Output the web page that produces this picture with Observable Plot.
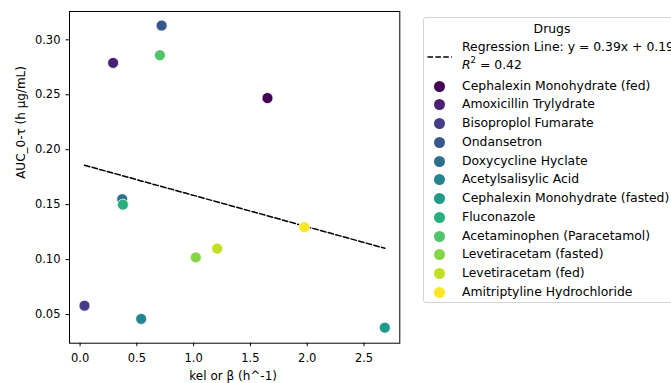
<!DOCTYPE html>
<html>
<head>
<meta charset="utf-8">
<script src="https://cdn.jsdelivr.net/npm/d3@7"></script>
<script src="https://cdn.jsdelivr.net/npm/@observablehq/plot@0.6"></script>
<style>
  html, body { margin: 0; padding: 0; background: #fff; }
  body { width: 671px; height: 383px; overflow: hidden; position: relative; font-family: "DejaVu Sans", sans-serif; color: #000; }
  #chart { position: absolute; left: 0; top: 0; }
  #legend { position: absolute; left: 423px; top: 17px; width: 280px; height: 286px; border: 1px solid #d3d3d3; border-radius: 3px; background: #fff; font-size: 12.4px; white-space: nowrap; box-sizing: border-box; }
  #legend .row { position: absolute; left: 0; height: 18px; line-height: 18px; }
  #legend .title { position: absolute; left: 0; width: 256px; text-align: center; height: 18px; line-height: 18px; }
  #legend .sw { position: absolute; left: 10px; top: 4px; width: 11px; height: 11px; border-radius: 50%; }
  #legend .lbl { position: absolute; left: 38px; top: 0; }
  #legend sup { font-size: 8.5px; line-height: 0; position: relative; top: -1px; }
</style>
</head>
<body>
<div id="chart"></div>
<div id="legend"></div>
<script>
// Drugs, elimination rate constants and exposure
const drugs = [
  "Cephalexin Monohydrate (fed)",
  "Amoxicillin Trylydrate",
  "Bisoproplol Fumarate",
  "Ondansetron",
  "Doxycycline Hyclate",
  "Acetylsalisylic Acid",
  "Cephalexin Monohydrate (fasted)",
  "Fluconazole",
  "Acetaminophen (Paracetamol)",
  "Levetiracetam (fasted)",
  "Levetiracetam (fed)",
  "Amitriptyline Hydrochloride"
];
const kel = [1.650, 0.291, 0.039, 0.718, 0.371, 0.538, 2.683, 0.377, 0.703, 1.019, 1.207, 1.974];
const auc = [0.247, 0.279, 0.058, 0.313, 0.155, 0.046, 0.038, 0.150, 0.286, 0.102, 0.110, 0.1295];

const xTicks = [0, 0.5, 1, 1.5, 2, 2.5];
const yTicks = [0.05, 0.10, 0.15, 0.20, 0.25, 0.30];

const xLabel = "kel or β (h^-1)";
const yLabel = "AUC_0-τ (h μg/mL)";
const legendTitle = "Drugs";
const regressionText = "Regression Line: y = 0.39x + 0.19";
const r2Value = "0.42";

const data = drugs.map((d, i) => ({drug: d, kel: kel[i], auc: auc[i]}));

const W = 420, H = 383;
const plot = Plot.plot({
  width: W,
  height: H,
  marginLeft: 69,
  marginRight: W - 399.3,
  marginTop: 11,
  marginBottom: H - 342.7,
  x: {domain: [-0.093, 2.815]},
  y: {domain: [0.0239, 0.3258]},
  color: {type: "ordinal", scheme: "viridis", domain: drugs},
  style: {fontFamily: "DejaVu Sans", fontSize: "11.5px", color: "#000", background: "#fff"},
  marks: [
    Plot.axisX({ticks: xTicks, tickFormat: d3.format(".1f"), tickSize: 3.5, tickPadding: 7, label: null}),
    Plot.axisY({ticks: yTicks, tickFormat: d3.format(".2f"), tickSize: 3.5, tickPadding: 5.5, label: null}),
    Plot.linearRegressionY(data, {x: "kel", y: "auc", ci: 0, stroke: "#000", strokeWidth: 1.5, strokeDasharray: "5.5,2.4"}),
    Plot.dot(data, {x: "kel", y: "auc", fill: "drug", r: 5.5, stroke: "#fff", strokeWidth: 0.75}),
    Plot.frame({stroke: "#000", strokeWidth: 1}),
    Plot.text([xLabel], {frameAnchor: "bottom", dy: 32.5, dx: -1.5, lineAnchor: "middle", fontSize: 12}),
    Plot.text([yLabel], {frameAnchor: "left", dx: -48.5, dy: 1.5, rotate: -90, lineAnchor: "middle", fontSize: 12})
  ]
});
document.getElementById("chart").appendChild(plot);

// Legend built from the plot's own color scale
const color = plot.scale("color");
const legend = document.getElementById("legend");
const boxTop = 17;
const add = (html) => { legend.insertAdjacentHTML("beforeend", html); };
add(`<div class="title" style="top:${28 - boxTop - 9}px">${legendTitle}</div>`);
add(`<div class="row" style="top:${46 - boxTop - 9}px"><span class="lbl">${regressionText}</span></div>`);
add(`<div class="row" style="top:${64.3 - boxTop - 9}px"><span class="lbl"><i>R</i><sup>2</sup> = ${r2Value}</span></div>`);
add(`<svg style="position:absolute;left:3px;top:${56 - boxTop - 2}px" width="26" height="4"><line x1="0.5" x2="25" y1="2" y2="2" stroke="#000" stroke-width="1.5" stroke-dasharray="5.5,2.4"/></svg>`);
drugs.forEach((d, i) => {
  const cy = 84.7 + i * 18.75 - boxTop;
  add(`<div class="row" style="top:${cy - 9}px"><span class="sw" style="background:${color.apply(d)}"></span><span class="lbl">${d}</span></div>`);
});
</script>
</body>
</html>
